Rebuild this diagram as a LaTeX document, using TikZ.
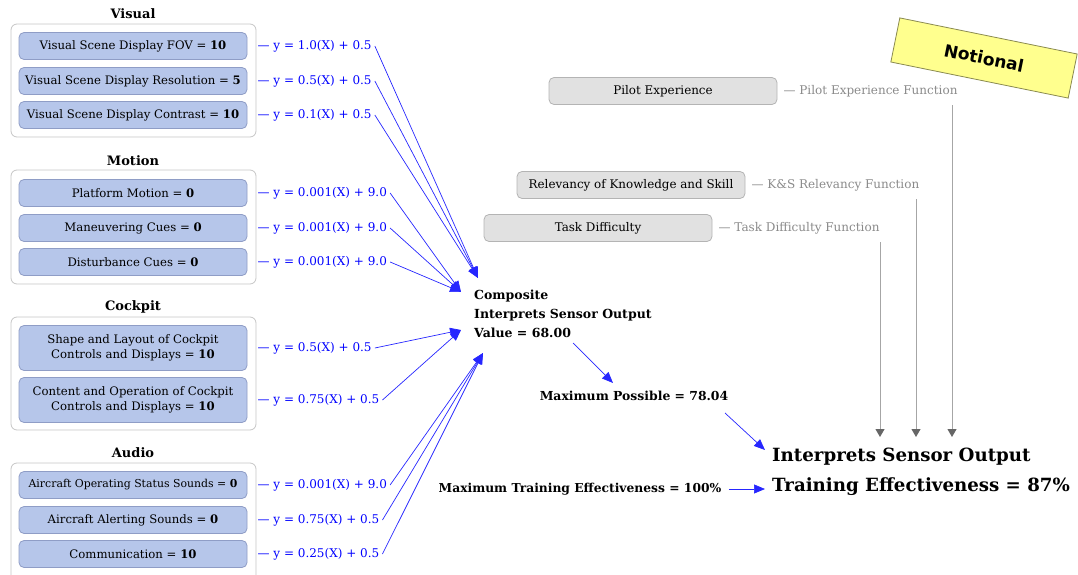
\documentclass[tikz,border=0pt]{standalone}
\usepackage{fontspec}
\setmainfont{DejaVu Serif}
\newfontfamily\notefont{DejaVu Sans}
\usetikzlibrary{arrows.meta,positioning}

\definecolor{itemblue}{HTML}{B6C6EA}
\definecolor{itemedge}{HTML}{8F9DC6}
\definecolor{groupedge}{HTML}{C6C6C6}
\definecolor{factorfill}{HTML}{E1E1E1}
\definecolor{factoredge}{HTML}{B4B4B4}
\definecolor{fngray}{HTML}{8A8A8A}
\definecolor{notefill}{HTML}{FFFF8E}
\definecolor{noteedge}{HTML}{8A8A50}

\newcommand{\itemfont}{\fontsize{11.7}{15}\selectfont}
\newcommand{\fnfont}{\fontsize{12}{14}\selectfont}
\newcommand{\titlefont}{\fontsize{13}{15}\selectfont\bfseries}

\begin{document}
\begin{tikzpicture}[x=1pt,y=-1pt]
  \tikzset{group box/.style={draw=groupedge, fill=white, rounded corners=6pt,
      line width=0.8pt, minimum width=245pt},
    item box/.style={draw=itemedge, fill=itemblue, rounded corners=5pt,
      line width=0.8pt, minimum width=228pt, minimum height=27pt,
      align=center, font=\itemfont},
    factor box/.style={draw=factoredge, fill=factorfill, rounded corners=5pt,
      line width=0.8pt, minimum width=228pt, minimum height=27pt,
      font=\fontsize{11.9}{14}\selectfont},
    group title/.style={font=\titlefont},
    fn label/.style={text=blue, font=\fnfont, inner sep=3pt},
    factor fn/.style={text=fngray, font=\fnfont, anchor=west, inner sep=3pt},
    blue arrow/.style={draw=blue!85!white, line width=0.7pt,
      -{Triangle[length=11pt,width=9pt]}},
    gray arrow/.style={draw=black!35, line width=1pt,
      -{Triangle[length=8pt,width=9pt,color=black!60]}}
  }
  \useasboundingbox (0,0) rectangle (1078,575);

  % visual
  \node[group title] (tvis) at (133,14) {Visual};
  \node[group box, minimum height=113pt] (gvis) at (133.5,80.5) {};
  \node[item box] (vis1) at (133,46) {Visual Scene Display FOV = \textbf{10}};
  \node[item box] (vis2) at (133,81) {Visual Scene Display Resolution = \textbf{5}};
  \node[item box] (vis3) at (133,115) {Visual Scene Display Contrast = \textbf{10}};
  \node[fn label, right=7pt of vis1] (fvis1) {--- y = 1.0(X) + 0.5};
  \node[fn label, right=7pt of vis2] (fvis2) {--- y = 0.5(X) + 0.5};
  \node[fn label, right=7pt of vis3] (fvis3) {--- y = 0.1(X) + 0.5};

  % motion
  \node[group title] (tmot) at (133,161) {Motion};
  \node[group box, minimum height=114pt] (gmot) at (133.5,227) {};
  \node[item box] (mot1) at (133,193) {Platform Motion = \textbf{0}};
  \node[item box] (mot2) at (133,228) {Maneuvering Cues = \textbf{0}};
  \node[item box] (mot3) at (133,262) {Disturbance Cues = \textbf{0}};
  \node[fn label, right=7pt of mot1] (fmot1) {--- y = 0.001(X) + 9.0};
  \node[fn label, right=7pt of mot2] (fmot2) {--- y = 0.001(X) + 9.0};
  \node[fn label, right=7pt of mot3] (fmot3) {--- y = 0.001(X) + 9.0};

  % cockpit
  \node[group title] (tck) at (133,307) {Cockpit};
  \node[group box, minimum height=113pt] (gck) at (133.5,373.5) {};
  \node[item box, minimum height=45pt] (ck1) at (133,348)
    {Shape and Layout of Cockpit\\Controls and Displays = \textbf{10}};
  \node[item box, minimum height=45pt] (ck2) at (133,400)
    {Content and Operation of Cockpit\\Controls and Displays = \textbf{10}};
  \node[fn label, right=7pt of ck1] (fck1) {--- y = 0.5(X) + 0.5};
  \node[fn label, right=7pt of ck2] (fck2) {--- y = 0.75(X) + 0.5};

  % audio
  \node[group title] (taud) at (133,453) {Audio};
  \node[group box, minimum height=130pt] (gaud) at (133.5,528) {};
  \node[item box, font=\fontsize{10.9}{14}\selectfont] (aud1) at (133,485)
    {Aircraft Operating Status Sounds = \textbf{0}};
  \node[item box] (aud2) at (133,520) {Aircraft Alerting Sounds = \textbf{0}};
  \node[item box] (aud3) at (133,554) {Communication = \textbf{10}};
  \node[fn label, right=7pt of aud1] (faud1) {--- y = 0.001(X) + 9.0};
  \node[fn label, right=7pt of aud2] (faud2) {--- y = 0.75(X) + 0.5};
  \node[fn label, right=7pt of aud3] (faud3) {--- y = 0.25(X) + 0.5};

  % composite value and results
  \node[anchor=north west, align=left, inner sep=2pt,
    font=\fontsize{12.5}{19}\selectfont\bfseries] (comp) at (472,288)
    {Composite\\Interprets Sensor Output\\Value = 68.00};
  \node[font=\fontsize{12.4}{14}\selectfont\bfseries] (maxp) at (634,396)
    {Maximum Possible = 78.04};
  \node[font=\fontsize{12.3}{14}\selectfont\bfseries] (maxt) at (580,489)
    {Maximum Training Effectiveness = 100\%};
  \node[anchor=north west, align=left, inner sep=2pt,
    font=\fontsize{18.2}{30}\selectfont\bfseries] (final) at (770,446)
    {Interprets Sensor Output\\Training Effectiveness = 87\%};

  \coordinate (aimvis) at (478,278);
  \coordinate (aimmot) at (461,292);
  \coordinate (aimck) at (461,330);
  \coordinate (aimaud) at (483,353);
  \coordinate (compout) at (573,343);
  \coordinate (maxpin) at (613,383);
  \coordinate (maxpout) at (725,413);
  \coordinate (finalin) at (765,450);

  \draw[blue arrow] (fvis1.east) -- (aimvis);
  \draw[blue arrow] (fvis2.east) -- (aimvis);
  \draw[blue arrow] (fvis3.east) -- (aimvis);
  \draw[blue arrow] (fmot1.east) -- (aimmot);
  \draw[blue arrow] (fmot2.east) -- (aimmot);
  \draw[blue arrow] (fmot3.east) -- (aimmot);
  \draw[blue arrow] (fck1.east) -- (aimck);
  \draw[blue arrow] (fck2.east) -- (aimck);
  \draw[blue arrow] (faud1.east) -- (aimaud);
  \draw[blue arrow] (faud2.east) -- (aimaud);
  \draw[blue arrow] (faud3.east) -- (aimaud);
  \draw[blue arrow] (compout) -- (maxpin);
  \draw[blue arrow] (maxpout) -- (finalin);
  \draw[blue arrow] ([xshift=4pt]maxt.east) -- ([xshift=-5pt]maxt.east -| final.west);

  % other factors
  \node[factor box] (pilot) at (663,91) {Pilot Experience};
  \node[factor box] (ks) at (631,185) {Relevancy of Knowledge and Skill};
  \node[factor box] (task) at (598,228) {Task Difficulty};
  \node[factor fn, right=3pt of pilot] (fpilot) {--- Pilot Experience Function};
  \node[factor fn, right=3pt of ks] (fks) {--- K\&S Relevancy Function};
  \node[factor fn, right=3pt of task] (ftask) {--- Task Difficulty Function};

  \coordinate (dpilot) at (952,437);
  \coordinate (dks) at (916,437);
  \coordinate (dtask) at (880,437);
  \draw[gray arrow] ([yshift=-5pt]fpilot.south -| dpilot) -- (dpilot);
  \draw[gray arrow] ([yshift=-5pt]fks.south -| dks) -- (dks);
  \draw[gray arrow] ([yshift=-5pt]ftask.south -| dtask) -- (dtask);

  \node[draw=noteedge, fill=notefill, line width=0.8pt, rotate=-11.5,
    minimum width=181pt, minimum height=45pt,
    font=\notefont\fontsize{17}{20}\selectfont\bfseries] (note) at (984,58) {Notional};
\end{tikzpicture}
\end{document}
